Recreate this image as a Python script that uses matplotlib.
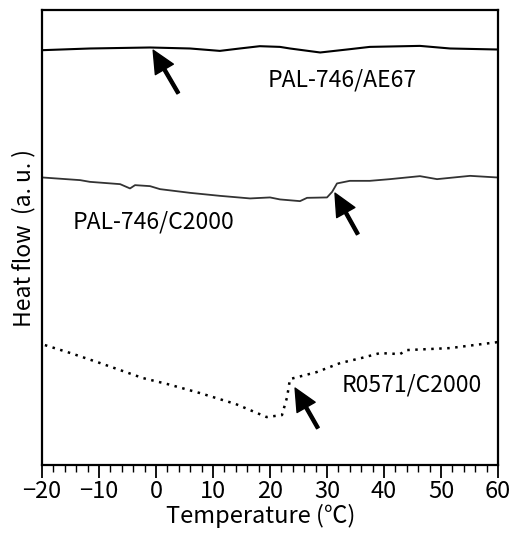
import numpy as np
import matplotlib
matplotlib.use('Agg')
import matplotlib.pyplot as plt

plt.rcParams['font.family'] = ['Noto Sans CJK JP', 'DejaVu Sans']

# DSC traces, heat flow in arbitrary units
T_ae67 = [-20, -11.6, -1.05, 5.96, 11.2, 14.7, 18.2, 21.75, 23.5, 28.8, 34.0, 37.5, 46.3, 51.6, 59.8]
hf_ae67 = [415, 416.7, 417.7, 416.7, 414.3, 416.7, 419, 418.3, 416.7, 412.7, 416, 418.3, 419.3, 416.7, 415.7]

T_pal = [-20, -13.3, -11.6, -6.3, -4.56, -3.68, -1.05, 0.7, 5.96, 11.2, 16.5, 20.0, 21.75, 25.26,
         26.5, 30.0, 30.9, 31.75, 34.0, 37.5, 41.05, 46.3, 49.3, 55.1, 59.8]
hf_pal = [287.7, 285, 283.3, 281, 276.7, 280, 279, 276, 272.3, 269.3, 266.7, 267.7, 265.7, 264,
          267.3, 267.7, 273.3, 281.7, 284.3, 284.3, 286, 289, 286, 289.3, 287.7]

T_ro = [-19.5, -15, -9.8, -2.3, 2, 7.7, 14, 19.4, 22.1, 23, 23.5, 28.2, 32.3, 36, 39.3, 42.8, 44, 51.6, 60]
hf_ro = [120, 112, 102, 87, 81, 72, 61, 48, 50, 68, 86, 93, 102, 107, 112, 111, 115, 117, 123]

labels = ['PAL-746/AE67', 'PAL-746/C2000', 'R0571/C2000']
label_xy = [(19.6, 385), (-14.6, 243), (32.6, 80)]
# arrow tip and tail
arrow_tip = [(-0.5, 415), (31.4, 272), (24.4, 77)]
arrow_tail = [(3.9, 372), (35.4, 231), (28.4, 37)]

fig = plt.figure(figsize=(5.15, 5.37), dpi=100)
ax = fig.add_axes([0.0816, 0.134, 0.8854, 0.847])

ax.plot(T_ae67, hf_ae67, color='black', lw=1.5)
ax.plot(T_pal, hf_pal, color='#333333', lw=1.3)
ax.plot(T_ro, hf_ro, color='black', lw=1.8, linestyle=(0, (1, 2.2)))

for s, (x, y) in zip(labels, label_xy):
    ax.text(x, y, s, fontsize=16.5, va='center', ha='left')

for tip, tail in zip(arrow_tip, arrow_tail):
    ax.annotate('', xy=tip, xytext=tail,
                arrowprops=dict(facecolor='black', edgecolor='black',
                                width=2.2, headwidth=15, headlength=16))

ax.set_xlim(-20, 60)
ax.set_ylim(0, 455)
ax.set_xticks(np.arange(-20, 61, 10))
ax.set_xticks(np.arange(-20, 61, 2), minor=True)
ax.set_yticks([])
ax.tick_params(axis='x', which='major', direction='out', length=9, width=1.3, labelsize=17, pad=2)
ax.tick_params(axis='x', which='minor', direction='out', length=5, width=1.0)
for sp in ax.spines.values():
    sp.set_linewidth(1.6)

ax.set_xlabel('Temperature (℃)', fontsize=17, labelpad=-1)
ax.xaxis.set_label_coords(0.48, -0.085)
ax.set_ylabel('Heat flow  (a. u. )', fontsize=16.5, labelpad=5)

fig.savefig('out.png', dpi=100)
